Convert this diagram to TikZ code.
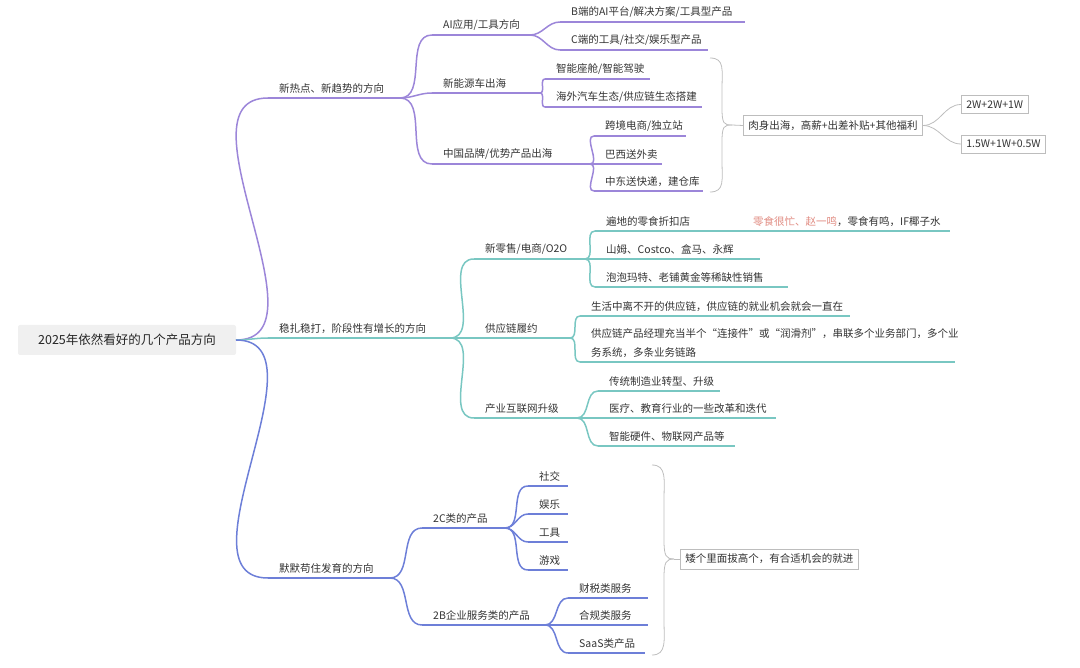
\documentclass[tikz,border=0pt]{standalone}
\usepackage{fontspec}
\setmainfont{Noto Sans CJK SC}
\definecolor{pu}{HTML}{9C86D9}
\definecolor{te}{HTML}{79C7C2}
\definecolor{bl}{HTML}{6D7FD8}
\definecolor{gr}{HTML}{BDBDBD}
\definecolor{rd}{HTML}{E08A80}
\definecolor{tx}{HTML}{333333}
\newcommand\lf[6]{%
  \coordinate (#1-s) at (#2,#4); \coordinate (#1-e) at (#3,#4);
  \draw[#5,line width=1.5pt] (#1-s) -- (#1-e);
  \node[txt] (#1-t) at ([xshift=10pt,yshift=3pt]#1-s) {#6};}
\newcommand\cn[3]{\draw[#1,line width=1.5pt] (#2-e) to[out=0,in=180] (#3-s);}
\begin{document}
\begin{tikzpicture}[x=1pt,y=-1pt,
  txt/.style={anchor=south west,inner sep=1pt,font=\fontsize{10.5}{13}\selectfont,text=tx},
  box/.style={draw=gr,line width=0.8pt,inner sep=5pt,font=\fontsize{10.5}{13}\selectfont,text=tx,fill=white}]
\useasboundingbox (0,0) rectangle (1080,668);
% root
\node[fill=gray!12,rounded corners=2pt,minimum width=218pt,minimum height=30pt,font=\fontsize{12.5}{14}\selectfont,text=black!85] (root) at (127,340) {2025年依然看好的几个产品方向};
\coordinate (root-e) at (236,340);
% level 1
\lf{a}{268}{400}{98}{pu}{新热点、新趋势的方向}
\lf{b}{268}{450}{338}{te}{稳扎稳打，阶段性有增长的方向}
\lf{c}{268}{390}{578}{bl}{默默苟住发育的方向}
\cn{pu}{root}{a}\cn{te}{root}{b}\cn{bl}{root}{c}
% purple
\lf{a1}{432}{530}{35}{pu}{AI应用/工具方向}
\lf{a2}{432}{540}{93}{pu}{新能源车出海}
\lf{a3}{432}{590}{164}{pu}{中国品牌/优势产品出海}
\cn{pu}{a}{a1}\cn{pu}{a}{a2}\cn{pu}{a}{a3}
\lf{a11}{560}{745}{22}{pu}{B端的AI平台/解决方案/工具型产品}
\lf{a12}{560}{708}{50}{pu}{C端的工具/社交/娱乐型产品}
\cn{pu}{a1}{a11}\cn{pu}{a1}{a12}
\lf{a21}{545}{650}{79}{pu}{智能座舱/智能驾驶}
\lf{a22}{545}{702}{107}{pu}{海外汽车生态/供应链生态搭建}
\cn{pu}{a2}{a21}\cn{pu}{a2}{a22}
\lf{a31}{594}{686}{136}{pu}{跨境电商/独立站}
\lf{a32}{594}{662}{164}{pu}{巴西送外卖}
\lf{a33}{594}{703}{191}{pu}{中东送快递，建仓库}
\cn{pu}{a3}{a31}\cn{pu}{a3}{a32}\cn{pu}{a3}{a33}
\draw[gr,line width=0.8pt] (710,58) .. controls (725,58) and (722,70) .. (722,90) -- (722,108) .. controls (722,124) and (724,125) .. (732,125) coordinate (br1);
\draw[gr,line width=0.8pt] (710,192) .. controls (725,192) and (722,180) .. (722,160) -- (722,142) .. controls (722,126) and (724,125) .. (732,125);
\node[box,anchor=west] (s1) at (743,125.5) {肉身出海，高薪+出差补贴+其他福利};
\draw[gr,line width=0.8pt] (br1) -- (s1.west);
\node[box,anchor=west] (s11) at (961,104.5) {2W+2W+1W};
\node[box,anchor=west] (s12) at (961,144) {1.5W+1W+0.5W};
\draw[gr,line width=0.8pt] (s1.east) to[out=0,in=180] (s11.west);
\draw[gr,line width=0.8pt] (s1.east) to[out=0,in=180] (s12.west);
% teal
\lf{b1}{474}{585}{259}{te}{新零售/电商/O2O}
\lf{b2}{474}{570}{338}{te}{供应链履约}
\lf{b3}{474}{577}{418}{te}{产业互联网升级}
\cn{te}{b}{b1}\cn{te}{b}{b2}\cn{te}{b}{b3}
\lf{b11}{595}{950}{231}{te}{遍地的零食折扣店}
\node[txt] (b11r) at (752,228) {\textcolor{rd}{零食很忙、赵一鸣}，零食有鸣，IF椰子水};
\lf{b12}{595}{760}{259}{te}{山姆、Costco、盒马、永辉}
\lf{b13}{595}{788}{287}{te}{泡泡玛特、老铺黄金等稀缺性销售}
\cn{te}{b1}{b11}\cn{te}{b1}{b12}\cn{te}{b1}{b13}
\lf{b21}{580}{850}{316}{te}{生活中离不开的供应链，供应链的就业机会就会一直在}
\lf{b22}{580}{955}{362}{te,}{}
\node[txt,align=left,font=\fontsize{10.5}{19}\selectfont] (b22-x) at ([xshift=10pt,yshift=3pt]b22-s) {供应链产品经理充当半个“连接件”或“润滑剂”，串联多个业务部门，多个业\\务系统，多条业务链路};
\cn{te}{b2}{b21}\cn{te}{b2}{b22}
\lf{b31}{598}{720}{391}{te}{传统制造业转型、升级}
\lf{b32}{598}{776}{418}{te}{医疗、教育行业的一些改革和迭代}
\lf{b33}{598}{735}{446}{te}{智能硬件、物联网产品等}
\cn{te}{b3}{b31}\cn{te}{b3}{b32}\cn{te}{b3}{b33}
% blue
\lf{c1}{422}{505}{528}{bl}{2C类的产品}
\lf{c2}{422}{545}{625}{bl}{2B企业服务类的产品}
\cn{bl}{c}{c1}\cn{bl}{c}{c2}
\lf{c11}{528}{568}{486}{bl}{社交}
\lf{c12}{528}{568}{514}{bl}{娱乐}
\lf{c13}{528}{568}{542}{bl}{工具}
\lf{c14}{528}{568}{570}{bl}{游戏}
\cn{bl}{c1}{c11}\cn{bl}{c1}{c12}\cn{bl}{c1}{c13}\cn{bl}{c1}{c14}
\lf{c21}{568}{648}{598}{bl}{财税类服务}
\lf{c22}{568}{648}{625}{bl}{合规类服务}
\lf{c23}{568}{645}{653}{bl}{SaaS类产品}
\cn{bl}{c2}{c21}\cn{bl}{c2}{c22}\cn{bl}{c2}{c23}
\draw[gr,line width=0.8pt] (652,465) .. controls (667,465) and (664,480) .. (664,500) -- (664,540) .. controls (664,556) and (666,559) .. (674,559) coordinate (br2);
\draw[gr,line width=0.8pt] (652,655) .. controls (667,655) and (664,640) .. (664,620) -- (664,578) .. controls (664,562) and (666,559) .. (674,559);
\node[box,anchor=west] (s2) at (680,559) {矮个里面拔高个，有合适机会的就进};
\draw[gr,line width=0.8pt] (br2) -- (s2.west);
\end{tikzpicture}
\end{document}
